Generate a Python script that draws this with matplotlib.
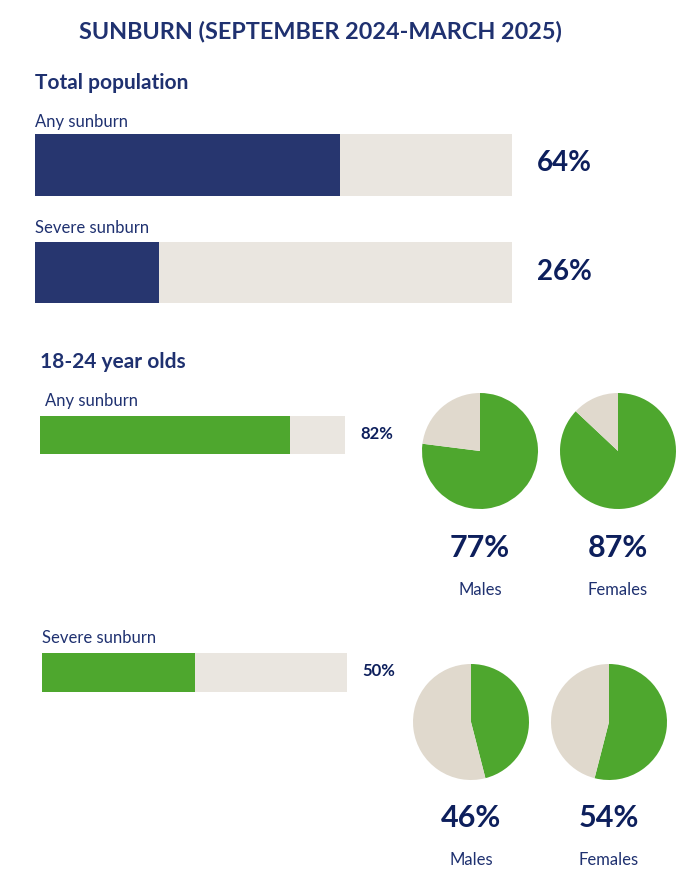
import matplotlib.pyplot as plt

# data
total_labels = ["Any sunburn", "Severe sunburn"]
total_values = [64, 26]
youth_labels = ["Any sunburn", "Severe sunburn"]
youth_values = [82, 50]
male_values = [77, 46]
female_values = [87, 54]
sex_labels = ["Males", "Females"]

NAVY = "#27366F"
TEXT = "#1F3170"
DARK = "#0D1F5C"
GREEN = "#4EA72E"
BAR_BG = "#EAE6E0"
PIE_BG = "#E0D9CD"

W, H = 696, 880
plt.rcParams["font.family"] = ["Lato", "DejaVu Sans"]

fig = plt.figure(figsize=(W / 100, H / 100), dpi=100)
fig.patch.set_facecolor("white")


def px_axes(x0, y0, x1, y1):
    ax = fig.add_axes([x0 / W, 1 - y1 / H, (x1 - x0) / W, (y1 - y0) / H])
    ax.axis("off")
    return ax


def txt(x, y, s, **kw):
    kw.setdefault("color", TEXT)
    kw.setdefault("va", "center")
    fig.text(x / W, 1 - y / H, s, **kw)


def bar(x0, y0, x1, y1, value, color):
    ax = px_axes(x0, y0, x1, y1)
    ax.barh([0], [100], height=1, color=BAR_BG)
    ax.barh([0], [value], height=1, color=color)
    ax.set_xlim(0, 100)
    ax.set_ylim(-0.5, 0.5)


def pie(cx, cy, r, value):
    ax = px_axes(cx - r, cy - r, cx + r, cy + r)
    ax.pie([value, 100 - value], colors=[GREEN, PIE_BG], startangle=90,
           counterclock=False, radius=1)
    ax.set_xlim(-1, 1)
    ax.set_ylim(-1, 1)


txt(320, 32, "SUNBURN (SEPTEMBER 2024-MARCH 2025)", ha="center",
    fontsize=16.8, fontweight="bold", color=TEXT)

# total population
txt(35, 83, "Total population", fontsize=15, fontweight="bold")
bar_rows = [(122, 134, 196, 163), (228, 242, 303, 272)]
for (ly, y0, y1, vy), lab, v in zip(bar_rows, total_labels, total_values):
    txt(35, ly, lab, fontsize=12)
    bar(35, y0, 512, y1, v, NAVY)
    txt(537, vy, f"{v}%", fontsize=20, fontweight="bold", color=DARK)

# 18-24 year olds
txt(40, 362, "18-24 year olds", fontsize=15, fontweight="bold")
youth_rows = [
    dict(lx=45, ly=401, x0=40, y0=416, x1=345, y1=454, vx=360, vy=434,
         pies=[(480, 451), (618, 451)], pct_y=548, lab_y=590),
    dict(lx=42, ly=638, x0=42, y0=653, x1=347, y1=692, vx=362, vy=671,
         pies=[(471, 722), (609, 722)], pct_y=818, lab_y=860),
]
for row, lab, v, mv, fv in zip(youth_rows, youth_labels, youth_values,
                               male_values, female_values):
    txt(row["lx"], row["ly"], lab, fontsize=12)
    bar(row["x0"], row["y0"], row["x1"], row["y1"], v, GREEN)
    txt(row["vx"], row["vy"], f"{v}%", fontsize=12, fontweight="bold",
        color=DARK)
    for (cx, cy), pv, sl in zip(row["pies"], [mv, fv], sex_labels):
        pie(cx, cy, 58, pv)
        txt(cx, row["pct_y"], f"{pv}%", ha="center", fontsize=22,
            fontweight="bold", color=DARK)
        txt(cx, row["lab_y"], sl, ha="center", fontsize=12)

fig.savefig("out.png", dpi=100, facecolor="white")
